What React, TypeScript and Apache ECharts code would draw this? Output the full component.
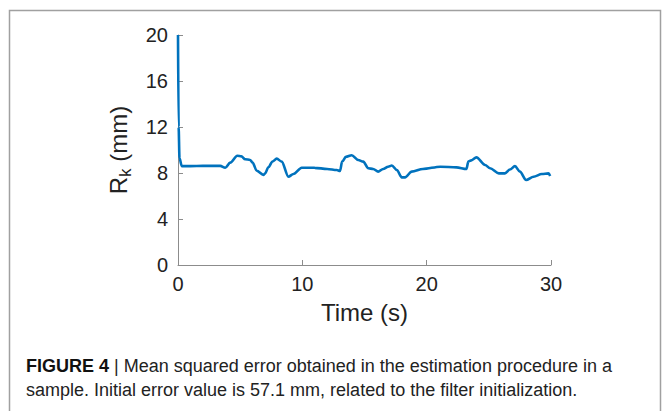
import React, { useEffect, useRef } from "react";
import * as echarts from "echarts";

const timeValues = [
  0, 0.05, 0.12, 0.3, 1.0, 2.0, 3.0, 3.4, 3.8, 4.2,
  4.77, 5.1, 5.4, 5.8, 6.0, 6.33, 6.87, 7.0, 7.27, 7.6,
  7.94, 8.34, 8.88, 9.28, 9.95, 11.0, 12.0, 12.77, 13.03, 13.2,
  13.5, 13.97, 14.5, 14.9, 15.3, 15.7, 16.1, 16.5, 16.9, 17.2,
  17.6, 18.0, 18.26, 18.8, 19.7, 21.1, 22.4, 23.2, 23.35, 23.6,
  24.0, 24.7, 25.1, 25.8, 26.3, 26.7, 27.1, 27.5, 28.0, 28.6,
  29.26, 29.8, 29.93,
];
const rkValues = [
  20, 12, 9.3, 8.6, 8.6, 8.62, 8.62, 8.62, 8.46, 8.9,
  9.5, 9.45, 9.2, 9.13, 8.9, 8.2, 7.83, 7.95, 8.5, 9.0,
  9.25, 8.99, 7.68, 7.91, 8.46, 8.45, 8.35, 8.26, 8.17, 8.99,
  9.4, 9.55, 9.13, 8.99, 8.41, 8.35, 8.12, 8.35, 8.55, 8.65,
  8.26, 7.62, 7.62, 8.12, 8.35, 8.55, 8.49, 8.35, 8.99, 9.1,
  9.36, 8.7, 8.41, 7.97, 7.97, 8.3, 8.6, 8.12, 7.39, 7.68,
  7.91, 7.97, 7.74,
];
const xAxisTitle = "Time (s)";
const captionBold = "FIGURE 4";
const captionLine1 = " | Mean squared error obtained in the estimation procedure in a";
const captionLine2 = "sample. Initial error value is 57.1 mm, related to the filter initialization.";

const FONT = "'Liberation Sans', Arial, Helvetica, sans-serif";

export default function App() {
  const ref = useRef<HTMLDivElement>(null);
  useEffect(() => {
    if (!ref.current) return;
    const chart = echarts.init(ref.current, null, { renderer: "svg" });
    const data = timeValues.map((t, i) => [t, rkValues[i]]);
    chart.setOption({
      animation: false,
      backgroundColor: "#ffffff",
      grid: { left: 178, right: 112, top: 35, bottom: 146, containLabel: false },
      xAxis: {
        type: "value",
        min: 0,
        max: 30,
        interval: 10,
        name: xAxisTitle,
        nameLocation: "middle",
        nameGap: 35,
        nameTextStyle: { fontSize: 24, color: "#222", fontFamily: FONT },
        axisLine: { show: true, lineStyle: { color: "#8c8c8c", width: 1 } },
        axisTick: { show: true, inside: true, length: 5, lineStyle: { color: "#8c8c8c" } },
        axisLabel: { fontSize: 20, color: "#222", fontFamily: FONT, margin: 9 },
        splitLine: { show: false },
      },
      yAxis: {
        type: "value",
        min: 0,
        max: 20,
        interval: 4,
        name: "{r|R}{s|k}{r| (mm)}",
        nameLocation: "middle",
        nameGap: 46,
        nameRotate: 90,
        nameTextStyle: {
          fontFamily: FONT,
          color: "#222",
          rich: {
            r: { fontSize: 24, lineHeight: 27, color: "#222", fontFamily: FONT },
            s: { fontSize: 17, lineHeight: 17, padding: [14, 0, 0, 0], color: "#222", fontFamily: FONT },
          },
        },
        axisLine: { show: true, lineStyle: { color: "#8c8c8c", width: 1 } },
        axisTick: { show: true, inside: true, length: 5, lineStyle: { color: "#8c8c8c" } },
        axisLabel: { fontSize: 20, color: "#222", fontFamily: FONT, margin: 10 },
        splitLine: { show: false },
      },
      graphic: [
        {
          type: "rect",
          shape: { x: 9.5, y: 10.5, width: 651, height: 440 },
          style: { fill: "none", stroke: "#a0a0a0", lineWidth: 1.5 },
          silent: true,
        },
        {
          type: "text",
          left: 26,
          top: 357,
          style: {
            text: "{b|" + captionBold + "}{n|" + captionLine1 + "}",
            rich: {
              b: { fontSize: 18, fontWeight: "bold", fill: "#111", fontFamily: FONT },
              n: { fontSize: 18, fill: "#222", fontFamily: FONT },
            },
          },
        },
        {
          type: "text",
          left: 26,
          top: 381,
          style: {
            text: captionLine2,
            fontSize: 18,
            fill: "#222",
            fontFamily: FONT,
          },
        },
      ],
      series: [
        {
          type: "line",
          data,
          showSymbol: false,
          symbol: "none",
          smooth: 0.3,
          smoothMonotone: "x",
          lineStyle: { color: "#0072BD", width: 2.6 },
        },
      ],
    });
    return () => chart.dispose();
  }, []);
  return (
    <div
      ref={ref}
      style={{ position: "absolute", left: 0, top: 0, width: 663, height: 411, background: "#fff" }}
    />
  );
}
